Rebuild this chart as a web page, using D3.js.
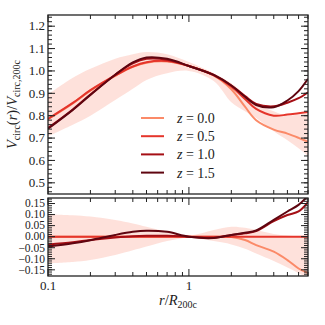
<!DOCTYPE html>
<html>
<head>
<meta charset="utf-8">
<script src="https://cdn.jsdelivr.net/npm/d3@7"></script>
<style>
  body { margin: 0; background: #fff; }
</style>
</head>
<body>
<div id="chart"></div>
<script>
// radius samples (r / R200c)
const radii = [0.1, 0.15, 0.2, 0.3, 0.4, 0.5, 0.7, 1.0, 1.5, 2, 2.5, 3, 4, 5, 6, 7]

// top panel : Vcirc(r)/Vcirc,200c
const vZ00 = [0.784, 0.855, 0.912, 0.978, 1.018, 1.037, 1.042, 1.022, 0.98, 0.918, 0.84, 0.78, 0.738, 0.72, 0.701, 0.683]
const vZ05 = [0.786, 0.857, 0.914, 0.98, 1.02, 1.039, 1.044, 1.022, 0.98, 0.93, 0.875, 0.83, 0.8, 0.805, 0.811, 0.816]
const vZ10 = [0.745, 0.828, 0.895, 0.983, 1.034, 1.054, 1.05, 1.022, 0.982, 0.935, 0.888, 0.853, 0.842, 0.858, 0.878, 0.905]
const vZ15 = [0.742, 0.826, 0.893, 0.983, 1.038, 1.06, 1.054, 1.022, 0.982, 0.935, 0.885, 0.848, 0.838, 0.868, 0.91, 0.965]
const bandTop = [0.895, 0.97, 1.01, 1.055, 1.075, 1.085, 1.075, 1.04, 0.99, 0.945, 0.895, 0.855, 0.82, 0.8, 0.805, 0.81]
const bandBot = [0.708, 0.76, 0.8, 0.87, 0.92, 0.96, 0.99, 1.0, 0.955, 0.86, 0.82, 0.79, 0.73, 0.69, 0.655, 0.62]

// bottom panel : relative difference
const dZ00 = [0, 0, 0, 0, 0, 0, 0, 0, 0, -0.002, -0.015, -0.038, -0.068, -0.106, -0.144, -0.165]
const dZ05 = [0, 0, 0, 0, 0, 0, 0, 0, 0, 0, 0, 0, 0, 0, 0, 0]
const dZ10 = [-0.035, -0.025, -0.015, -0.004, 0.002, 0.004, 0.004, 0, -0.005, 0.008, 0.015, 0.025, 0.07, 0.098, 0.114, 0.156]
const dZ15 = [-0.045, -0.03, -0.016, 0.008, 0.022, 0.027, 0.022, 0, -0.006, 0.008, 0.018, 0.028, 0.076, 0.114, 0.144, 0.185]
const dBandTop = [0.102, 0.097, 0.091, 0.076, 0.06, 0.045, 0.023, 0.005, 0.03, 0.045, 0.04, 0.03, 0.012, 0.005, 0.002, 0]
const dBandBot = [-0.121, -0.115, -0.106, -0.083, -0.062, -0.045, -0.02, -0.005, -0.02, -0.035, -0.055, -0.076, -0.11, -0.14, -0.165, -0.19]

const legendLabels = ["0.0", "0.5", "1.0", "1.5"]
const colors = ["#fb8a68", "#e5352b", "#a50f15", "#5f0510"]

const W = 325, H = 325
const LEFT = 48, RIGHT = 308
const TOP1 = 15, BOT1 = 194
const TOP2 = 198, BOT2 = 276
const FONT = '"Liberation Serif", "TeX Gyre Termes", "DejaVu Serif", serif'

const svg = d3.select("#chart").append("svg")
  .attr("width", W)
  .attr("height", H)

// helper: every text gets the serif font explicitly
function addText(parent) {
  return parent.append("text").style("font-family", FONT).attr("fill", "#222")
}

const x = d3.scaleLog().domain([0.1, 7]).range([LEFT, RIGHT])
const y1 = d3.scaleLinear().domain([0.45, 1.25]).range([BOT1, TOP1])
const y2 = d3.scaleLinear().domain([-0.178, 0.175]).range([BOT2, TOP2])

// clip paths for each panel
const defs = svg.append("defs")
defs.append("clipPath").attr("id", "clip1").append("rect")
  .attr("x", LEFT).attr("y", TOP1).attr("width", RIGHT - LEFT).attr("height", BOT1 - TOP1)
defs.append("clipPath").attr("id", "clip2").append("rect")
  .attr("x", LEFT).attr("y", TOP2).attr("width", RIGHT - LEFT).attr("height", BOT2 - TOP2)

function drawPanel(y, clipId, lines, top, bot) {
  const g = svg.append("g").attr("clip-path", `url(#${clipId})`)
  const area = d3.area()
    .x((d, i) => x(radii[i]))
    .y0((d, i) => y(bot[i]))
    .y1(d => y(d))
    .curve(d3.curveCatmullRom)
  g.append("path")
    .attr("d", area(top))
    .attr("fill", "#fb6a4a")
    .attr("fill-opacity", 0.2)
  const line = d3.line()
    .x((d, i) => x(radii[i]))
    .y(d => y(d))
    .curve(d3.curveCatmullRom)
  lines.forEach((vals, k) => {
    g.append("path")
      .attr("d", line(vals))
      .attr("fill", "none")
      .attr("stroke", colors[k])
      .attr("stroke-width", 2)
  })
}

drawPanel(y1, "clip1", [vZ00, vZ05, vZ10, vZ15], bandTop, bandBot)
drawPanel(y2, "clip2", [dZ00, dZ05, dZ10, dZ15], dBandTop, dBandBot)

// ticks pointing inward on all sides
function drawFrame(y, top, bot, majorY, minorY, fmt, showX, fs) {
  const g = svg.append("g").attr("stroke", "#222")
  const xMajor = [0.1, 1]
  const xMinor = x.ticks().filter(t => !xMajor.some(m => Math.abs(m - t) < 1e-9))
  xMajor.forEach(t => {
    g.append("line").attr("x1", x(t)).attr("x2", x(t)).attr("y1", bot).attr("y2", bot - 7)
    g.append("line").attr("x1", x(t)).attr("x2", x(t)).attr("y1", top).attr("y2", top + 7)
  })
  xMinor.forEach(t => {
    g.append("line").attr("x1", x(t)).attr("x2", x(t)).attr("y1", bot).attr("y2", bot - 4)
    g.append("line").attr("x1", x(t)).attr("x2", x(t)).attr("y1", top).attr("y2", top + 4)
  })
  minorY.forEach(t => {
    g.append("line").attr("x1", LEFT).attr("x2", LEFT + 4).attr("y1", y(t)).attr("y2", y(t))
    g.append("line").attr("x1", RIGHT).attr("x2", RIGHT - 4).attr("y1", y(t)).attr("y2", y(t))
  })
  majorY.forEach(t => {
    g.append("line").attr("x1", LEFT).attr("x2", LEFT + 7).attr("y1", y(t)).attr("y2", y(t))
    g.append("line").attr("x1", RIGHT).attr("x2", RIGHT - 7).attr("y1", y(t)).attr("y2", y(t))
    addText(svg)
      .attr("x", LEFT - 3)
      .attr("y", y(t))
      .attr("dy", "0.33em")
      .attr("text-anchor", "end")
      .attr("font-size", fs)
      .text(fmt(t))
  })
  g.append("rect")
    .attr("x", LEFT).attr("y", top)
    .attr("width", RIGHT - LEFT).attr("height", bot - top)
    .attr("fill", "none")
    .attr("stroke-width", 1.3)
  if (showX) {
    xMajor.forEach(t => {
      addText(svg)
        .attr("x", x(t))
        .attr("y", bot + 14)
        .attr("text-anchor", "middle")
        .attr("font-size", "13px")
        .text(t === 1 ? "1" : "0.1")
    })
  }
}

const yMajor1 = d3.range(5, 13).map(d => d / 10)
const yMinor1 = d3.range(23, 63).map(d => d / 50)
drawFrame(y1, TOP1, BOT1, yMajor1, yMinor1, d3.format(".1f"), false, "13px")

const yMajor2 = d3.range(-3, 4).map(d => d * 0.05)
const yMinor2 = d3.range(-17, 18).map(d => d / 100)
drawFrame(y2, TOP2, BOT2, yMajor2, yMinor2, d3.format(".2f"), true, "11.5px")

// legend
const legend = svg.append("g")
legendLabels.forEach((lab, k) => {
  const ly = 118 + k * 18.2
  legend.append("line")
    .attr("x1", 141).attr("x2", 164)
    .attr("y1", ly).attr("y2", ly)
    .attr("stroke", colors[k])
    .attr("stroke-width", 2)
  const t = addText(legend)
    .attr("x", 177)
    .attr("y", ly)
    .attr("dy", "0.35em")
    .attr("font-size", "14px")
  t.append("tspan").attr("font-style", "italic").text("z")
  t.append("tspan").text(" = " + lab)
})

// y label
const yl = addText(svg)
  .attr("transform", `translate(17, ${(TOP1 + BOT1) / 2}) rotate(-90)`)
  .attr("text-anchor", "middle")
  .attr("font-size", "14.5px")
yl.append("tspan").attr("font-style", "italic").text("V")
yl.append("tspan").attr("font-size", "10px").attr("dy", "3").text("circ")
yl.append("tspan").attr("dy", "-3").text("(")
yl.append("tspan").attr("font-style", "italic").text("r")
yl.append("tspan").text(")/")
yl.append("tspan").attr("font-style", "italic").text("V")
yl.append("tspan").attr("font-size", "10px").attr("dy", "3").text("circ,200c")

// x label
const xl = addText(svg)
  .attr("x", (LEFT + RIGHT) / 2)
  .attr("y", 305)
  .attr("text-anchor", "middle")
  .attr("font-size", "14.5px")
xl.append("tspan").attr("font-style", "italic").text("r")
xl.append("tspan").text("/")
xl.append("tspan").attr("font-style", "italic").text("R")
xl.append("tspan").attr("font-size", "10px").attr("dy", "3").text("200c")
</script>
</body>
</html>
